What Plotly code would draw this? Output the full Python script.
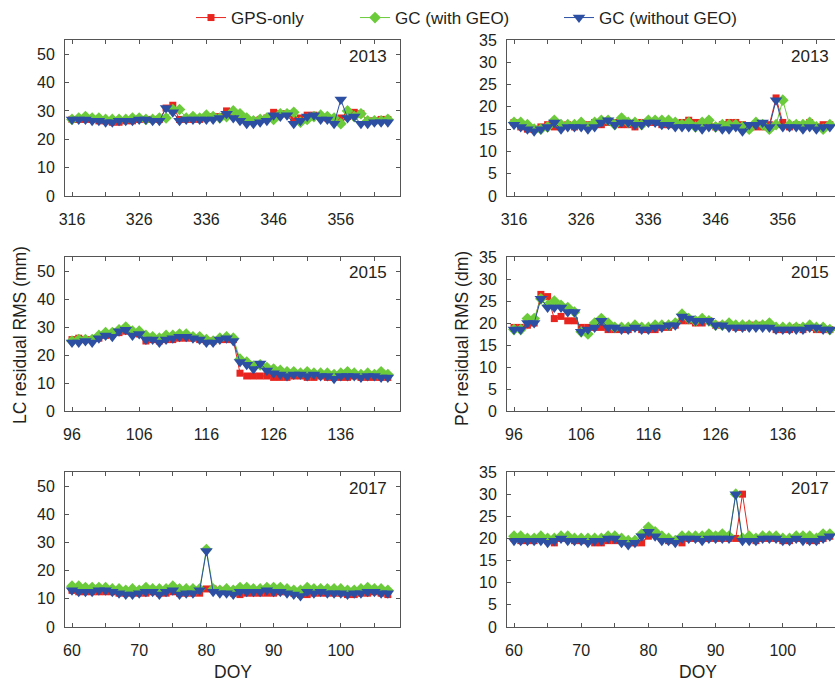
import plotly.graph_objects as go

# ---------------- data ----------------
doy_2013 = list(range(316, 364))
doy_2015 = list(range(96, 144))
doy_2017 = list(range(60, 108))

lc13_gps = [27, 27, 27, 27, 26.5, 26.5, 26, 26, 26.5, 26.5, 27, 27, 27, 27, 31, 32, 27, 27, 27, 27, 27.5, 28, 28, 30,
            28.5, 28, 27, 26.5, 27, 27.5, 29.5, 29, 29, 27, 27.5, 28.5, 28.5, 28, 27.5, 26.5, 27.5, 28, 29.5, 29, 26.5, 26.5, 27, 27]
lc13_gc = [27, 27.5, 28, 27.5, 27.5, 27, 27, 27, 27, 27.5, 27.5, 27, 27, 27.5, 27.5, 30.5, 30.5, 27.5, 28, 27.5, 28.5, 28, 27.5, 28,
           30, 29, 27.5, 26.5, 27, 27.5, 27, 29, 29, 29.5, 26, 27, 28, 28.5, 28, 27.5, 25.5, 30, 28, 29, 26.5, 26.5, 26.5, 27]
lc13_nogeo = [27, 27, 27, 26.5, 26.5, 26, 26, 26.5, 26.5, 26.5, 27, 27, 26.5, 26.5, 31, 29.5, 26.5, 27, 27, 27, 27, 27, 27.5, 29,
              27.5, 26.5, 25.5, 25.5, 26, 26.5, 28.5, 28, 28.5, 25.5, 26.5, 28, 28.5, 27, 27, 25.5, 34, 27.5, 28, 25.5, 25.5, 26, 26, 26]

pc13_gps = [16.5, 15.5, 15, 15, 15.5, 16, 15.5, 15.5, 16, 15.5, 16, 16, 16.5, 16, 16.5, 16.5, 16, 16, 15.5, 16.5, 16.5, 16.5, 16, 16,
            16, 16.5, 17, 16.5, 16.5, 16, 15.5, 16, 16.5, 16.5, 16, 15.5, 15.5, 15.5, 16, 22, 16.5, 15.5, 16, 15.5, 16.5, 15.5, 16, 16]
pc13_gc = [16.5, 16.5, 16, 15, 15, 15.5, 17, 16, 16, 16, 16.5, 15.5, 16.5, 17, 17, 16, 17.5, 16.5, 16.5, 16, 17, 17, 17, 17,
           16.5, 16, 16.5, 15.5, 16.5, 17, 15.5, 16, 16, 16, 15.5, 15, 16.5, 16, 15, 16, 21.5, 16, 16, 16, 16.5, 15.5, 15, 16]
pc13_nogeo = [16, 15.5, 15, 14.5, 15, 15.5, 16.5, 15, 15.5, 15.5, 15.5, 15, 15.5, 16.5, 17, 16, 16.5, 16.5, 16, 16, 16.5, 16.5, 16, 16,
              15.5, 15.5, 15.5, 15.5, 15, 15.5, 15.5, 15, 15, 15.5, 14.5, 16, 16, 16.5, 15.5, 21.5, 15.5, 15.5, 15.5, 15, 15.5, 15, 15.5, 15.5]

lc15_gps = [25.5, 26, 25.5, 25.5, 26, 27, 27.5, 28, 28.5, 28, 27.5, 25, 25.5, 25, 25.5, 25.5, 26, 26, 26, 25.5, 25, 25, 25.5, 25.5,
            25.5, 13.5, 12.5, 12.5, 12.5, 12.5, 12, 12, 12, 12.5, 12.5, 12, 12, 12.5, 12, 12, 12, 12, 12.5, 12, 12, 12, 12, 12]
lc15_gc = [25, 25.5, 25.5, 25.5, 27, 28, 28, 29, 30, 28.5, 28.5, 27, 26.5, 26, 27, 27, 27.5, 27.5, 26.5, 26.5, 25.5, 25, 26, 26.5,
           26, 18.5, 17.5, 16, 16.5, 15.5, 15, 14.5, 14, 14, 13.5, 14, 13.5, 13.5, 13.5, 13, 13.5, 14, 13.5, 13, 13.5, 13, 14, 13]
lc15_nogeo = [24.5, 24.5, 25, 24.5, 26, 27, 26.5, 28.5, 29, 27, 27.5, 25.5, 25.5, 24.5, 25.5, 26, 26.5, 26.5, 26, 25.5, 24.5, 24.5, 25.5, 26,
              25, 17.5, 16.5, 15, 17, 14.5, 13.5, 13, 12.5, 13, 13, 12.5, 13, 12.5, 12.5, 11.5, 12.5, 12.5, 12.5, 12, 12.5, 12.5, 12, 12]

pc15_gps = [19, 19, 19.5, 20, 26.5, 26, 21, 21.5, 20.5, 20.5, 19, 19, 19, 19, 18.5, 18.5, 18.5, 18.5, 19, 18.5, 18.5, 18.5, 19, 19,
            19.5, 20.5, 20.5, 20, 20, 20.5, 19.5, 19.5, 19.5, 19, 19, 19.5, 19.5, 19.5, 19.5, 18.5, 18.5, 18.5, 19, 18.5, 19, 18.5, 18.5, 18.5]
pc15_gc = [18.5, 18.5, 21, 21, 25.5, 24, 25, 24, 23.5, 22.5, 18, 17.5, 20, 21, 20, 19, 19, 19, 19.5, 19, 19, 19.5, 19.5, 19.5,
           20, 22, 21, 20.5, 21, 20.5, 19.5, 19.5, 20, 19.5, 19.5, 19.5, 19.5, 19.5, 20, 19, 19, 19, 19, 19, 19.5, 19, 19, 18.5]
pc15_nogeo = [18.5, 18.5, 20, 20, 25.5, 23.5, 23.5, 23.5, 22.5, 22.5, 18, 18.5, 19, 20.5, 19, 19, 18.5, 18.5, 19, 18.5, 18.5, 19, 19, 19.5,
              19.5, 21.5, 21, 20.5, 20.5, 20.5, 19.5, 19.5, 19, 19, 19, 19, 19, 19, 19, 18.5, 18.5, 18.5, 18.5, 18.5, 19, 19, 18.5, 18.5]

lc17_gps = [13, 12.5, 12.5, 12.5, 12.5, 12.5, 12.5, 12, 12, 12, 12, 12, 12.5, 12, 12, 12.5, 12, 12, 12, 12, 13.5, 13.5, 13, 12.5,
            12, 11.5, 12, 12, 12, 12, 12, 12.5, 12.5, 12, 11.5, 11.5, 12, 12, 12, 12, 12, 11.5, 11.5, 12, 12, 12.5, 12, 11.5]
lc17_gc = [14.5, 14.5, 14, 14, 14, 14, 13.5, 13.5, 13, 13.5, 13, 14, 13.5, 13.5, 13.5, 14.5, 13.5, 13.5, 13.5, 13.5, 27.5, 13.5, 13, 13.5,
           13, 14, 14, 13.5, 13.5, 14, 14, 14, 13.5, 13, 13, 14, 13.5, 13.5, 13.5, 13.5, 13.5, 13, 13, 13.5, 14, 13.5, 13.5, 13]
lc17_nogeo = [13, 12.5, 12.5, 12.5, 13, 13, 12.5, 12, 11.5, 11.5, 12, 12.5, 12.5, 11.5, 12.5, 13, 11.5, 12, 12, 13, 27, 12.5, 12, 12,
              11.5, 12.5, 12.5, 12.5, 12.5, 13, 12.5, 12.5, 12, 11.5, 11, 12.5, 12, 12.5, 12, 12, 12, 11.5, 12, 12, 12.5, 12.5, 12, 12]

pc17_gps = [20, 19.5, 19.5, 19.5, 20, 19.5, 19, 20, 20, 19.5, 19.5, 19.5, 19, 19, 19.5, 19.5, 19.5, 19, 19, 19, 20.5, 21, 20, 19.5,
            19.5, 19, 20, 20, 20, 20, 20, 20, 20, 20, 30, 20, 19.5, 20, 20, 20, 19.5, 19.5, 20, 20, 19.5, 19.5, 20, 20.5]
pc17_gc = [20.5, 20.5, 20, 20, 20.5, 20, 20, 20.5, 20.5, 20, 20, 20, 20, 20, 20.5, 20.5, 20, 19.5, 19.5, 21, 22.5, 21.5, 20.5, 20,
           19.5, 20.5, 20.5, 20.5, 20.5, 21, 20.5, 21, 20.5, 30, 20, 20.5, 20, 20.5, 20.5, 20.5, 20, 20, 20.5, 20.5, 20.5, 20, 21, 21]
pc17_nogeo = [19.5, 19.5, 19.5, 19.5, 19.5, 19, 19.5, 20, 19.5, 19.5, 19.5, 19, 19.5, 19.5, 20, 20, 19, 18.5, 19, 20.5, 21.5, 20.5, 19.5, 19.5,
              19, 20, 20, 20, 19.5, 20, 20, 20, 20, 30, 19.5, 19.5, 19.5, 20, 20, 20, 19.5, 19.5, 20, 19.5, 19.5, 19.5, 20, 20.5]

series_names = ["GPS-only", "GC (with GEO)", "GC (without GEO)"]
years = ["2013", "2015", "2017"]
lc_ticks = [0, 10, 20, 30, 40, 50]
pc_ticks = [0, 5, 10, 15, 20, 25, 30, 35]

# ---------------- style ----------------
FONT = "Arial, Liberation Sans, sans-serif"
TXT = "#231f20"
AX = "#555555"
colors = ["#e8251f", "#6bcb3a", "#2c4fa3"]
symbols = ["square", "diamond", "triangle-down"]
msizes = [7, 9, 11]
legend_names = ["legend", "legend2", "legend3"]
legend_text_x = [234, 398, 602]

W, H = 835, 683
rows_px = [(40, 196), (257, 411), (472, 627)]
cols_px = [(65, 400), (507, 835)]

fig = go.Figure()

panels = [
    (doy_2013, [lc13_gps, lc13_gc, lc13_nogeo], [pc13_gps, pc13_gc, pc13_nogeo]),
    (doy_2015, [lc15_gps, lc15_gc, lc15_nogeo], [pc15_gps, pc15_gc, pc15_nogeo]),
    (doy_2017, [lc17_gps, lc17_gc, lc17_nogeo], [pc17_gps, pc17_gc, pc17_nogeo]),
]

px_per_day = 6.72
axis_idx = 0
for r, (days, lcs, pcs) in enumerate(panels):
    for c in range(2):
        axis_idx += 1
        xa = "x" if axis_idx == 1 else f"x{axis_idx}"
        ya = "y" if axis_idx == 1 else f"y{axis_idx}"
        data = lcs if c == 0 else pcs
        for k in range(3):
            fig.add_trace(go.Scatter(
                x=days, y=data[k], xaxis=xa, yaxis=ya, mode="lines+markers",
                name=series_names[k], showlegend=(axis_idx == 1), legend=legend_names[k],
                line=dict(color=colors[k], width=1),
                marker=dict(symbol=symbols[k], size=msizes[k], color=colors[k], line=dict(width=0)),
            ))
        x0p, x1p = cols_px[c]
        y0p, y1p = rows_px[r]
        d0 = days[0]
        tick_px = x0p + 7
        lo = d0 - (tick_px - x0p) / px_per_day
        hi = d0 + (x1p - tick_px) / px_per_day
        tv = list(range(d0, d0 + 50, 5))
        tt = [str(v) if (v - d0) % 10 == 0 else "" for v in tv]
        common = dict(showline=True, linecolor=AX, linewidth=1, ticks="inside", ticklen=4,
                      tickcolor=AX, showgrid=False, zeroline=False, automargin=False,
                      tickfont=dict(family=FONT, size=16, color=TXT))
        fig.update_layout(**{
            ("xaxis" if axis_idx == 1 else f"xaxis{axis_idx}"): dict(
                domain=[x0p / W, x1p / W], anchor=ya, range=[lo, hi],
                tickvals=tv, ticktext=tt, mirror="ticks", ticklabelstandoff=9, **common),
            ("yaxis" if axis_idx == 1 else f"yaxis{axis_idx}"): dict(
                domain=[1 - y1p / H, 1 - y0p / H], anchor=xa,
                range=[0, 55] if c == 0 else [0, 35],
                tickvals=lc_ticks if c == 0 else pc_ticks,
                mirror=("ticks" if c == 0 else False), ticklabelstandoff=6, **common),
        })
        # year label
        fig.add_annotation(x=(x1p - 11 if c == 0 else 831) / W, y=1 - (y0p + 16) / H,
                           xref="paper", yref="paper", text=years[r], showarrow=False,
                           xanchor="right", yanchor="middle",
                           font=dict(family=FONT, size=17, color=TXT))

# axis titles
fig.add_annotation(x=20 / W, y=1 - 335 / H, xref="paper", yref="paper", text="LC residual RMS (mm)",
                   textangle=-90, showarrow=False, xanchor="center", yanchor="middle",
                   font=dict(family=FONT, size=17.5, color=TXT))
fig.add_annotation(x=462 / W, y=1 - 338 / H, xref="paper", yref="paper", text="PC residual RMS (dm)",
                   textangle=-90, showarrow=False, xanchor="center", yanchor="middle",
                   font=dict(family=FONT, size=17.5, color=TXT))
for xc in (233, 698):
    fig.add_annotation(x=xc / W, y=1 - 672 / H, xref="paper", yref="paper", text="DOY",
                       showarrow=False, xanchor="center", yanchor="middle",
                       font=dict(family=FONT, size=17.5, color=TXT))

legend_common = dict(orientation="h", y=1.0, yanchor="top", xanchor="left",
                     font=dict(family=FONT, size=17, color=TXT), bgcolor="rgba(0,0,0,0)",
                     itemwidth=30)
fig.update_layout(
    width=W, height=H, margin=dict(l=0, r=0, t=0, b=0, autoexpand=False),
    paper_bgcolor="white", plot_bgcolor="white",
    font=dict(family=FONT, color=TXT),
    legend=dict(x=(legend_text_x[0] - 43) / W, **legend_common),
    legend2=dict(x=(legend_text_x[1] - 43) / W, **legend_common),
    legend3=dict(x=(legend_text_x[2] - 43) / W, **legend_common),
)

fig.write_html("out.html", config={"displayModeBar": False},
               post_script="document.body.style.margin='0';document.body.style.overflow='hidden';")
